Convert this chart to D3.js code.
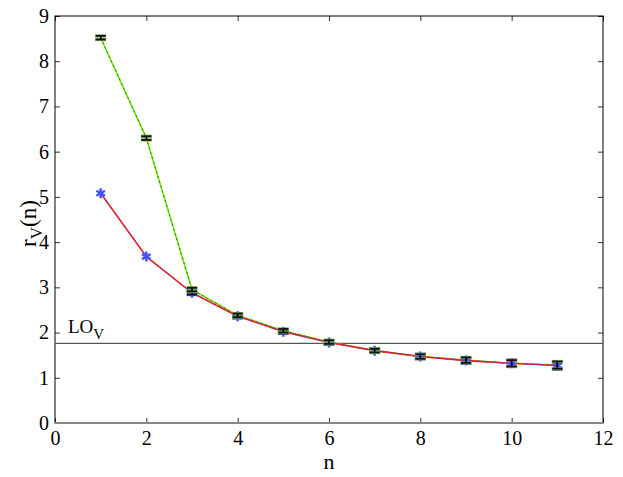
<!DOCTYPE html>
<html>
<head>
<meta charset="utf-8">
<script src="https://cdn.jsdelivr.net/npm/d3@7"></script>
<style>
  body { margin: 0; background: #fff; }
</style>
</head>
<body>
<svg id="chart" width="623" height="477" font-family="'Liberation Serif', 'Times New Roman', serif"></svg>
<script>
// data
const nValues = [1, 2, 3, 4, 5, 6, 7, 8, 9, 10, 11];
const rRed   = [5.08, 3.68, 2.88, 2.36, 2.02, 1.78, 1.60, 1.47, 1.38, 1.32, 1.27];
const errRed = [0.03, 0.04, 0.04, 0.04, 0.04, 0.04, 0.04, 0.05, 0.06, 0.07, 0.08];
const rGreen   = [8.52, 6.30, 2.95, 2.38, 2.04, 1.79, 1.60, 1.47, 1.39, 1.32, 1.28];
const errGreen = [0.04, 0.04, 0.04, 0.04, 0.04, 0.04, 0.04, 0.05, 0.06, 0.07, 0.08];
const loV = 1.76;
const xTicks = [0, 2, 4, 6, 8, 10, 12];
const yTicks = [0, 1, 2, 3, 4, 5, 6, 7, 8, 9];

const serif = "'Liberation Serif', 'Times New Roman', serif";

// plot box
const mLeft = 55, mRight = 603, mTop = 16, mBottom = 423;

const x = d3.scaleLinear().domain([0, 12]).range([mLeft, mRight]);
const y = d3.scaleLinear().domain([0, 9]).range([mBottom, mTop]);

const svg = d3.select("#chart");

// box with inward ticks on all sides
function styleAxis(g) {
    g.select(".domain").remove();
    g.attr("font-family", serif).attr("font-size", 20);
    g.selectAll(".tick line").attr("stroke", "#333");
    g.selectAll(".tick text").attr("fill", "#000").attr("font-family", serif);
}
svg.append("g")
    .attr("transform", `translate(0,${mBottom})`)
    .call(d3.axisBottom(x).tickValues(xTicks).tickSizeInner(-5).tickSizeOuter(0).tickPadding(8))
    .call(styleAxis);
svg.append("g")
    .attr("transform", `translate(0,${mTop})`)
    .call(d3.axisTop(x).tickValues(xTicks).tickSizeInner(-5).tickSizeOuter(0).tickFormat(""))
    .call(styleAxis);
svg.append("g")
    .attr("transform", `translate(${mLeft},0)`)
    .call(d3.axisLeft(y).tickValues(yTicks).tickSizeInner(-5).tickSizeOuter(0).tickPadding(6))
    .call(styleAxis);
svg.append("g")
    .attr("transform", `translate(${mRight},0)`)
    .call(d3.axisRight(y).tickValues(yTicks).tickSizeInner(-5).tickSizeOuter(0).tickFormat(""))
    .call(styleAxis);

svg.append("rect")
    .attr("x", mLeft).attr("y", mTop)
    .attr("width", mRight - mLeft).attr("height", mBottom - mTop)
    .attr("fill", "none").attr("stroke", "#000").attr("stroke-width", 1);
svg.append("line")
    .attr("x1", mLeft).attr("x2", mRight)
    .attr("y1", mBottom).attr("y2", mBottom)
    .attr("stroke", "#888").attr("stroke-width", 2);

// LO_V reference line
svg.append("line")
    .attr("x1", mLeft).attr("x2", mRight)
    .attr("y1", y(loV)).attr("y2", y(loV))
    .attr("stroke", "#555").attr("stroke-width", 1.2);

const loText = svg.append("text")
    .attr("x", 68).attr("y", y(loV) - 10)
    .attr("font-size", 19);
loText.append("tspan").text("LO");
loText.append("tspan").attr("dy", 6).attr("font-size", 15).text("V");

const line = d3.line().x(d => x(d[0])).y(d => y(d[1]));
const redPts = nValues.map((n, i) => [n, rRed[i]]);
const greenPts = nValues.map((n, i) => [n, rGreen[i]]);

// green series with dark dashes on top
svg.append("path").datum(greenPts)
    .attr("d", line).attr("fill", "none")
    .attr("stroke", "#66ee00").attr("stroke-width", 1.6);
svg.append("path").datum(greenPts)
    .attr("d", line).attr("fill", "none")
    .attr("stroke", "#335500").attr("stroke-width", 0.8)
    .attr("stroke-dasharray", "2,3");

// red series with blue dashes on top
svg.append("path").datum(redPts)
    .attr("d", line).attr("fill", "none")
    .attr("stroke", "#ff1a1a").attr("stroke-width", 1.6);
svg.append("path").datum(redPts)
    .attr("d", line).attr("fill", "none")
    .attr("stroke", "#3344ff").attr("stroke-width", 0.9)
    .attr("stroke-dasharray", "3,5");

// blue star markers on red series
svg.append("g").selectAll("path")
    .data(redPts)
    .join("path")
    .attr("transform", d => `translate(${x(d[0])},${y(d[1])})`)
    .attr("d", d3.symbol(d3.symbolAsterisk, 70))
    .attr("fill", "none")
    .attr("stroke", "#4455ff").attr("stroke-width", 2.5);

// error bars
function errorBars(pts, errs, halo) {
    const g = svg.append("g");
    pts.forEach((d, i) => {
        const cx = x(d[0]);
        const y0 = y(d[1] - errs[i]), y1 = y(d[1] + errs[i]);
        [y0, y1].forEach(yy => {
            g.append("line")
                .attr("x1", cx - 5.5).attr("x2", cx + 5.5)
                .attr("y1", yy).attr("y2", yy)
                .attr("stroke", halo).attr("stroke-width", 3.2);
        });
        g.append("line")
            .attr("x1", cx).attr("x2", cx).attr("y1", y0).attr("y2", y1)
            .attr("stroke", "#000").attr("stroke-width", 1.5);
        [y0, y1].forEach(yy => {
            g.append("line")
                .attr("x1", cx - 5).attr("x2", cx + 5)
                .attr("y1", yy).attr("y2", yy)
                .attr("stroke", "#111").attr("stroke-width", 1.8);
        });
    });
}
errorBars(redPts.slice(2), errRed.slice(2), "#5566cc");
errorBars(greenPts, errGreen, "#77aa55");

// axis labels
svg.append("text")
    .attr("x", (mLeft + mRight) / 2).attr("y", 469)
    .attr("text-anchor", "middle").attr("font-size", 22)
    .text("n");

const yl = svg.append("text")
    .attr("transform", `translate(36,${(mTop + mBottom) / 2 + 4}) rotate(-90)`)
    .attr("text-anchor", "middle").attr("font-size", 23);
yl.append("tspan").text("r");
yl.append("tspan").attr("dy", 6).attr("font-size", 17).text("V");
yl.append("tspan").attr("dy", -6).text("(n)");
</script>
</body>
</html>
